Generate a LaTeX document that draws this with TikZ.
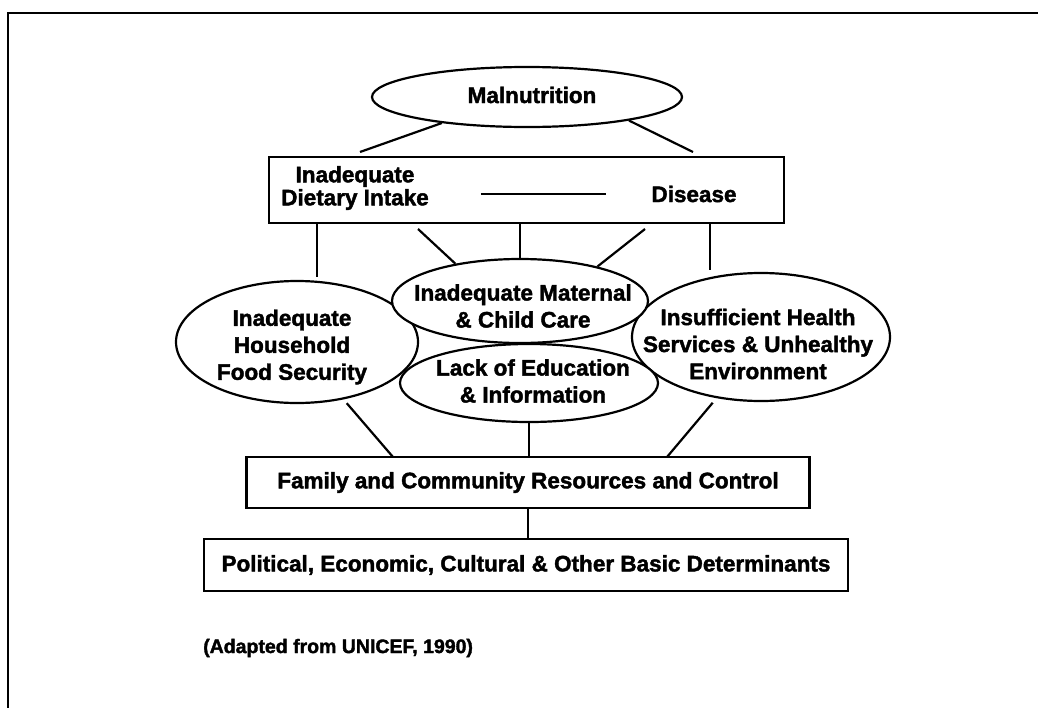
\documentclass[tikz,border=0pt]{standalone}
\usepackage{fontspec}
\setmainfont{Liberation Sans}[BoldFeatures={FakeBold=1.8}]
\usetikzlibrary{shapes.geometric}
\begin{document}
\begin{tikzpicture}[x=1pt,y=-1pt,
  ln/.style={line width=2.2pt},
  ell/.style={ellipse, draw, line width=2.2pt, fill=white, inner sep=0pt},
  bx/.style={draw, line width=2.2pt, inner sep=0pt, align=center,
    font=\fontsize{22.5}{27}\selectfont\bfseries},
  txt/.style={align=center, inner sep=0pt,
    font=\fontsize{22.5}{27}\selectfont\bfseries},
  note/.style={anchor=west, inner sep=0pt,
    font=\fontsize{19.5}{23}\selectfont\bfseries},
]
\useasboundingbox (0,0) rectangle (1038,707);
% frame
\draw[line width=2.2pt] (1040,13) -- (8,13) -- (8,709);

% top ellipse
\node[ell, minimum width=310, minimum height=60] (mal) at (527,97) {};
\node[txt] (malt) at (532,95) {Malnutrition};

% box 1
\node[bx, minimum width=515, minimum height=66] (box1) at (526.5,190) {};
\node[txt, font=\fontsize{22.5}{23}\selectfont\bfseries] (diet) at (355,188) {Inadequate\\Dietary Intake};
\node[txt] (dis) at (694,194) {Disease};

% middle ellipses
\node[ell, minimum width=242, minimum height=122] (hh) at (297,342) {};
\node[ell, minimum width=258, minimum height=128] (health) at (761,337) {};
\node[ell, minimum width=256, minimum height=84] (mat) at (520,301) {};
\node[ell, minimum width=258, minimum height=78] (lack) at (529,383) {};
\node[txt] (hht) at (292,347) {Inadequate\\Household\\Food Security};
\node[txt] (matt) at (523,306) {Inadequate Maternal\\\& Child Care};
\node[txt] (lackt) at (533,381) {Lack of Education\\\& Information};
\node[txt] (healtht) at (758,344) {Insufficient Health\\Services \& Unhealthy\\Environment};

% lower boxes
\node[bx, minimum width=563, minimum height=51] (fam) at (528,482.5) {Family and Community Resources and Control};
\node[bx, minimum width=644, minimum height=52] (pol) at (526,565) {Political, Economic, Cultural \& Other Basic Determinants};
\node[note] (src) at (203,648) {(Adapted from UNICEF, 1990)};

% free ends
\coordinate (m1) at (360,152);
\coordinate (m2) at (693,152);
\coordinate (v1) at (317,277);
\coordinate (v2) at (710,270);
\coordinate (d1) at (418,229);
\coordinate (d2) at (645,229);
\coordinate (f1) at (393,457);
\coordinate (f2) at (667,457);

% connectors
\draw[ln] (mal.197) -- (m1);
\draw[ln] (mal.-13) -- (m2);
\draw[ln, shorten <=52pt, shorten >=45pt] (diet.east |- dis.west) -- (dis.west);
\draw[ln] (v1 |- box1.south) -- (v1);
\draw[ln] (d1) -- (mat.150);
\draw[ln] (mat.north |- box1.south) -- (mat.north);
\draw[ln] (d2) -- (mat.24);
\draw[ln] (v2 |- box1.south) -- (v2);
\draw[ln, shorten <=5pt] (hh.-51) -- (f1);
\draw[ln] (lack.south) -- (lack.south |- fam.north);
\draw[ln, shorten <=6pt] (health.234) -- (f2);
\draw[ln] (fam.south) -- (fam.south |- pol.north);
\end{tikzpicture}
\end{document}
